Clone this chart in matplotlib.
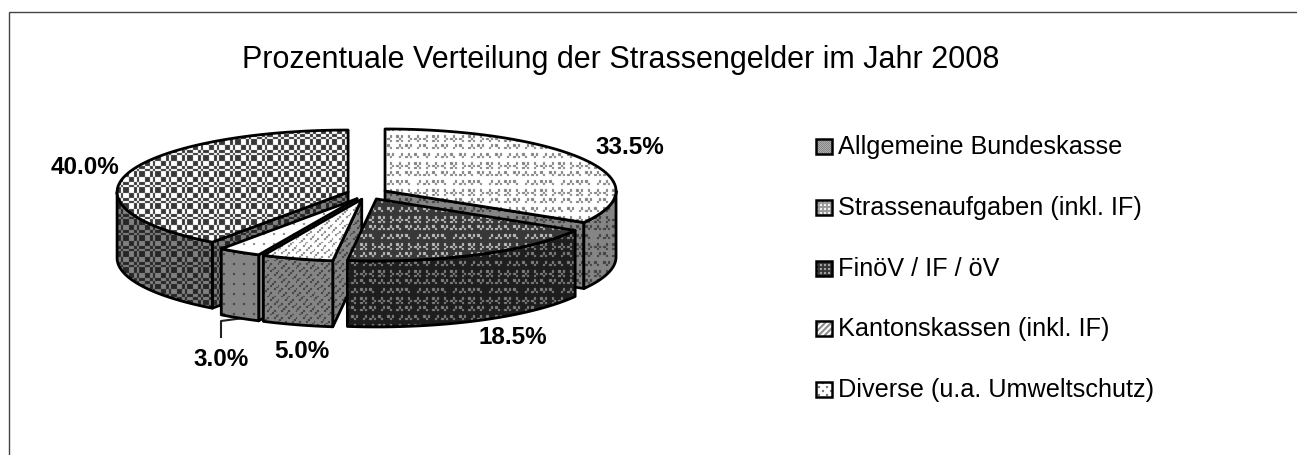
import numpy as np
import matplotlib
matplotlib.use('Agg')
import matplotlib.pyplot as plt
from matplotlib.patches import Polygon, Rectangle

plt.rcParams['font.family'] = ['Liberation Sans', 'DejaVu Sans']

# --- data ---
title = 'Prozentuale Verteilung der Strassengelder im Jahr 2008'
categories = ['Allgemeine Bundeskasse', 'Strassenaufgaben (inkl. IF)', 'FinöV / IF / öV',
              'Kantonskassen (inkl. IF)', 'Diverse (u.a. Umweltschutz)']
shares = [40.0, 33.5, 18.5, 5.0, 3.0]

# --- layout, in pixels of the reference ---
W, H = 1297, 455
first_angle = 216
cx, cy = 367.4, 193.8
rx, ry = 231, 62
depth = 66
explode_x, explode_y = 20.3, 5.7
paint_order = [1, 0, 4, 3, 2]
label_pos = [(85, 168), (630, 148), (513, 338), (302, 351), (221, 359)]
legend_y = [147, 208, 269, 329, 390]


# --- fill patterns ---
GLYPHS = {
    'X': ['#.#', '.#.', '#.#'],
    'D': ['.#.', '#.#', '.#.'],
    '<': ['.#.', '#..', '.#.'],
    '>': ['.#.', '..#', '.#.'],
    'v': ['#.#', '.#.', '...'],
    'a': ['.#.', '#.#', '...'],
    '/': ['..#', '.#.', '...'],
    'b': ['#..', '.#.', '...'],
}
GLYPH_ROWS = ['D<X>', 'bvaa', 'vb/a', 'X>D<', 'av/b', '/abv']


def glyph_tile():
    tile = np.zeros((4 * len(GLYPH_ROWS), 16), dtype=bool)
    for r, row in enumerate(GLYPH_ROWS):
        for c, name in enumerate(row):
            for i, line in enumerate(GLYPHS[name]):
                for j, ch in enumerate(line):
                    tile[4 * r + i, 4 * c + j] = ch == '#'
    return tile


def plaid_tile():
    f = np.array([1, 1, 0, 1, 0, 0], dtype=bool)
    return f[:, None] == f[None, :]


def diag_tile():
    y, x = np.mgrid[0:16, 0:16]
    return ((x + y) % 4 == 0) & ((x - y) % 8 < 5)


def dots_tile():
    tile = np.zeros((4, 4), dtype=bool)
    tile[1, 1] = True
    return tile


def stripes_tile():
    y, x = np.mgrid[0:6, 0:6]
    return (x + y) % 6 < 3


def fine_tile():
    y, x = np.mgrid[0:2, 0:2]
    return (x + y) % 2 == 0


def texture(tile, cell, bg, fg):
    yy, xx = np.mgrid[0:H, 0:W]
    on = tile[(yy / cell).astype(int) % tile.shape[0], (xx / cell).astype(int) % tile.shape[1]]
    img = np.where(on, fg, bg).astype(float)
    # the reference is a slightly soft scan
    soft = (np.roll(img, 1, 0) + np.roll(img, -1, 0) + np.roll(img, 1, 1) + np.roll(img, -1, 1)) / 4
    return 0.7 * img + 0.3 * soft


# top, outer wall and cut face of each slice
PLAID = plaid_tile()
GLYPH = glyph_tile()
DIAG = diag_tile()
DOTS = dots_tile()
slice_fill = [
    (texture(PLAID, 2.67, 1.0, 0.22), texture(PLAID, 2.67, 0.5, 0.15), texture(PLAID, 2.67, 0.5, 0.15)),
    (texture(GLYPH, 2.25, 1.0, 0.5), texture(GLYPH, 2.25, 0.52, 0.25), texture(GLYPH, 2.25, 0.52, 0.25)),
    (texture(GLYPH, 2.25, 0.22, 0.75), texture(GLYPH, 2.25, 0.12, 0.5), texture(GLYPH, 2.25, 0.12, 0.5)),
    (texture(DIAG, 1.8, 1.0, 0.5), texture(DIAG, 1.8, 0.52, 0.25), texture(DIAG, 1.8, 0.52, 0.25)),
    (texture(DOTS, 2.5, 1.0, 0.5), texture(DOTS, 2.5, 0.52, 0.25), texture(DOTS, 2.5, 0.52, 0.25)),
]
legend_fill = [
    texture(fine_tile(), 1.0, 0.8, 0.4),
    texture(np.array([[1, 0], [0, 0]], dtype=bool), 2.0, 0.6, 1.0),
    texture(np.array([[1, 0], [0, 0]], dtype=bool), 2.0, 0.2, 0.7),
    texture(stripes_tile(), 1.0, 1.0, 0.55),
    texture(np.array([[0, 0, 0, 0], [0, 1, 0, 0], [0, 0, 0, 0], [0, 0, 0, 1]], dtype=bool), 2.0, 1.0, 0.4),
]

fig = plt.figure(figsize=(W / 100, H / 100), dpi=100)
ax = fig.add_axes([0, 0, 1, 1])
ax.set_xlim(0, W)
ax.set_ylim(H, 0)
ax.axis('off')

# frame: only top and left edges fall inside the picture
ax.plot([W, 8.5, 8.5], [11.5, 11.5, H], color='#444444', lw=1.0, solid_joinstyle='miter')


def fill(points, tex, lw=2.0, z=2):
    poly = Polygon(points, closed=True, fc='none', ec='black', lw=lw, joinstyle='round', zorder=z + 0.1)
    ax.add_patch(poly)
    im = ax.imshow(tex, cmap='gray', vmin=0, vmax=1, extent=(0, W, H, 0), interpolation='nearest',
                   aspect='auto', zorder=z)
    im.set_clip_path(poly)


def rim(x0, y0, angles):
    t = np.radians(angles)
    return np.column_stack([x0 + rx * np.sin(t), y0 - ry * np.cos(t)])


# --- pie ---
edges = first_angle + np.concatenate([[0], np.cumsum(shares)]) * 3.6
z = 2
for i in paint_order:
    t0 = edges[i] % 360
    t1 = t0 + shares[i] * 3.6
    mid = np.radians((t0 + t1) / 2)
    x0 = cx + explode_x * np.sin(mid)
    y0 = cy - explode_y * np.cos(mid)
    top_tex, wall_tex, face_tex = slice_fill[i]

    # cut faces turned towards the viewer
    for t, visible in ((t0, np.sin(np.radians(t0)) < -1e-6), (t1, np.sin(np.radians(t1)) > 1e-6)):
        if visible:
            p = rim(x0, y0, [t])[0]
            fill([(x0, y0), p, (p[0], p[1] + depth), (x0, y0 + depth)], face_tex, z=z)
            z += 1

    # outer wall, front half only
    s0, s1 = max(t0, 90), min(t1, 270)
    if s1 > s0:
        arc = rim(x0, y0, np.linspace(s0, s1, 60))
        fill(np.vstack([arc, arc[::-1] + [0, depth]]), wall_tex, z=z)
        z += 1

    # top
    arc = rim(x0, y0, np.linspace(t0, t1, 120))
    fill(np.vstack([[(x0, y0)], arc]), top_tex, z=z)
    z += 1

# leader line of the 3.0% label
ax.plot([221, 221, 244], [337, 321, 318], color='#222222', lw=1.5, zorder=1)

# --- labels, legend, title ---
for share, (lx, ly) in zip(shares, label_pos):
    ax.text(lx, ly, f'{share:.1f}%', fontsize=17.5, fontweight='bold', ha='center', va='center', zorder=50)

for name, y, tex in zip(categories, legend_y, legend_fill):
    box = Rectangle((816, y - 8.5), 15.5, 15.5, fc='none', ec='black', lw=1.8, zorder=3)
    ax.add_patch(box)
    im = ax.imshow(tex, cmap='gray', vmin=0, vmax=1, extent=(0, W, H, 0), interpolation='nearest',
                   aspect='auto', zorder=2)
    im.set_clip_path(box)
    ax.text(838, y, name, fontsize=18.2, ha='left', va='center', color='black', zorder=5)

ax.text(621, 60, title, fontsize=22, ha='center', va='center', color='black')

ax.set_xlim(0, W)
ax.set_ylim(H, 0)
fig.savefig('out.png', dpi=100, facecolor='white')
